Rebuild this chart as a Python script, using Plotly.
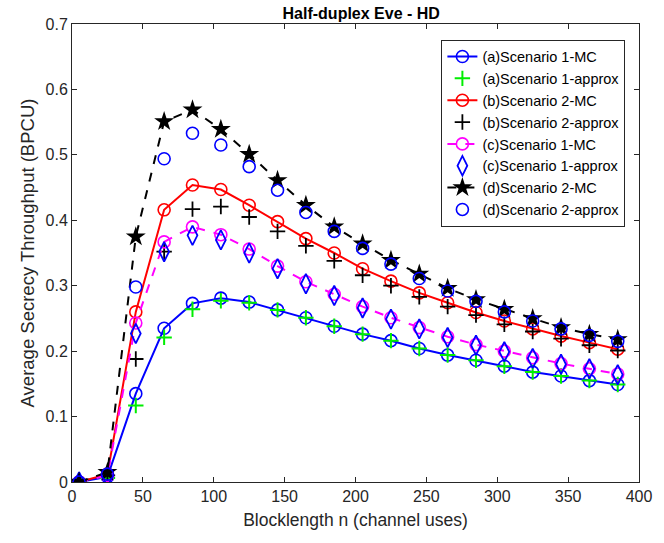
import plotly.graph_objects as go

x = [5, 25, 45, 65, 85, 105, 125, 145, 165, 185, 205, 225, 245, 265, 285, 305, 325, 345, 365, 385]

a_mc = [0, 0.008, 0.135, 0.235, 0.273, 0.281, 0.275, 0.263, 0.251, 0.238, 0.226, 0.216, 0.204, 0.194, 0.186, 0.177, 0.168, 0.162, 0.155, 0.149]
a_approx = [0, 0.006, 0.117, 0.221, 0.264, 0.277, 0.274, 0.263, 0.251, 0.238, 0.226, 0.216, 0.204, 0.194, 0.186, 0.177, 0.168, 0.162, 0.155, 0.149]
b_mc = [0, 0.012, 0.260, 0.416, 0.454, 0.447, 0.423, 0.398, 0.372, 0.350, 0.326, 0.307, 0.289, 0.274, 0.259, 0.246, 0.234, 0.223, 0.213, 0.203]
b_approx = [0, 0.010, 0.188, 0.352, 0.417, 0.421, 0.405, 0.383, 0.361, 0.338, 0.316, 0.300, 0.283, 0.268, 0.255, 0.241, 0.230, 0.219, 0.209, 0.201]
c_mc = [0, 0.010, 0.243, 0.367, 0.390, 0.378, 0.356, 0.330, 0.306, 0.287, 0.268, 0.251, 0.236, 0.222, 0.210, 0.200, 0.190, 0.181, 0.173, 0.165]
c_approx = [0, 0.008, 0.227, 0.352, 0.377, 0.370, 0.350, 0.326, 0.303, 0.285, 0.266, 0.249, 0.234, 0.221, 0.209, 0.199, 0.189, 0.180, 0.173, 0.164]
d_mc = [0, 0.015, 0.375, 0.551, 0.569, 0.539, 0.501, 0.461, 0.423, 0.390, 0.364, 0.339, 0.318, 0.296, 0.279, 0.264, 0.250, 0.236, 0.226, 0.218]
d_approx = [0, 0.012, 0.298, 0.494, 0.533, 0.515, 0.482, 0.446, 0.412, 0.383, 0.357, 0.333, 0.311, 0.292, 0.276, 0.260, 0.246, 0.234, 0.224, 0.215]

names = ["(a)Scenario 1-MC", "(a)Scenario 1-approx", "(b)Scenario 2-MC", "(b)Scenario 2-approx",
         "(c)Scenario 1-MC", "(c)Scenario 1-approx", "(d)Scenario 2-MC", "(d)Scenario 2-approx"]

fig = go.Figure()

fig.add_trace(go.Scatter(x=x, y=a_mc, name=names[0], mode="lines+markers",
                         line=dict(color="#0000ff", width=2),
                         marker=dict(symbol="circle-open", size=12, color="#0000ff", line=dict(width=1.6))))
fig.add_trace(go.Scatter(x=x, y=a_approx, name=names[1], mode="markers",
                         marker=dict(symbol="cross-thin-open", size=11, color="#00ee00", line=dict(width=2, color="#00ee00"))))
fig.add_trace(go.Scatter(x=x, y=b_mc, name=names[2], mode="lines+markers",
                         line=dict(color="#ff0000", width=2),
                         marker=dict(symbol="circle-open", size=12, color="#ff0000", line=dict(width=1.6))))
fig.add_trace(go.Scatter(x=x, y=b_approx, name=names[3], mode="markers",
                         marker=dict(symbol="cross-thin-open", size=11, color="#000000", line=dict(width=1.8, color="#000000"))))
fig.add_trace(go.Scatter(x=x, y=c_mc, name=names[4], mode="lines+markers",
                         line=dict(color="#ff00ff", width=2, dash="dash"),
                         marker=dict(symbol="circle-open", size=12, color="#ff00ff", line=dict(width=1.6))))
fig.add_trace(go.Scatter(x=x, y=c_approx, name=names[5], mode="markers",
                         marker=dict(symbol="diamond-tall-open", size=14, color="#0000ff", line=dict(width=1.8))))
fig.add_trace(go.Scatter(x=x, y=d_mc, name=names[6], mode="lines+markers",
                         line=dict(color="#000000", width=2, dash="dash"),
                         marker=dict(symbol="star", size=15, color="#000000")))
fig.add_trace(go.Scatter(x=x, y=d_approx, name=names[7], mode="markers",
                         marker=dict(symbol="circle-open", size=12, color="#0000ff", line=dict(width=1.6))))

axis_common = dict(showline=True, linecolor="#262626", linewidth=1, mirror="ticks",
                   ticks="inside", ticklen=5, tickcolor="#262626", showgrid=False, zeroline=False,
                   tickfont=dict(size=16, color="#262626"))

fig.update_layout(
    width=664, height=543,
    margin=dict(l=72, r=14, t=24, b=61),
    paper_bgcolor="white", plot_bgcolor="white",
    font=dict(family="Liberation Sans, Arial, sans-serif", color="#262626"),
    title=dict(text="<b>Half-duplex Eve - HD</b>", x=0.544, xanchor="center", y=0.976, yanchor="middle",
               font=dict(size=16, color="#000000")),
    xaxis=dict(range=[0, 400], tickvals=[0, 50, 100, 150, 200, 250, 300, 350, 400],
               title=dict(text="Blocklength n (channel uses)", font=dict(size=17.5), standoff=9), **axis_common),
    yaxis=dict(range=[0, 0.7], tickvals=[0, 0.1, 0.2, 0.3, 0.4, 0.5, 0.6, 0.7],
               ticktext=["0", "0.1", "0.2", "0.3", "0.4", "0.5", "0.6", "0.7"],
               title=dict(text="Average Secrecy Throughput (BPCU)", font=dict(size=18.5), standoff=6), **axis_common),
    legend=dict(x=0.976, xanchor="right", y=0.966, yanchor="top",
                bgcolor="white", bordercolor="#262626", borderwidth=1,
                font=dict(size=14.5, color="#000000"), tracegroupgap=0),
    showlegend=True,
)

fig.write_html("out.html")
